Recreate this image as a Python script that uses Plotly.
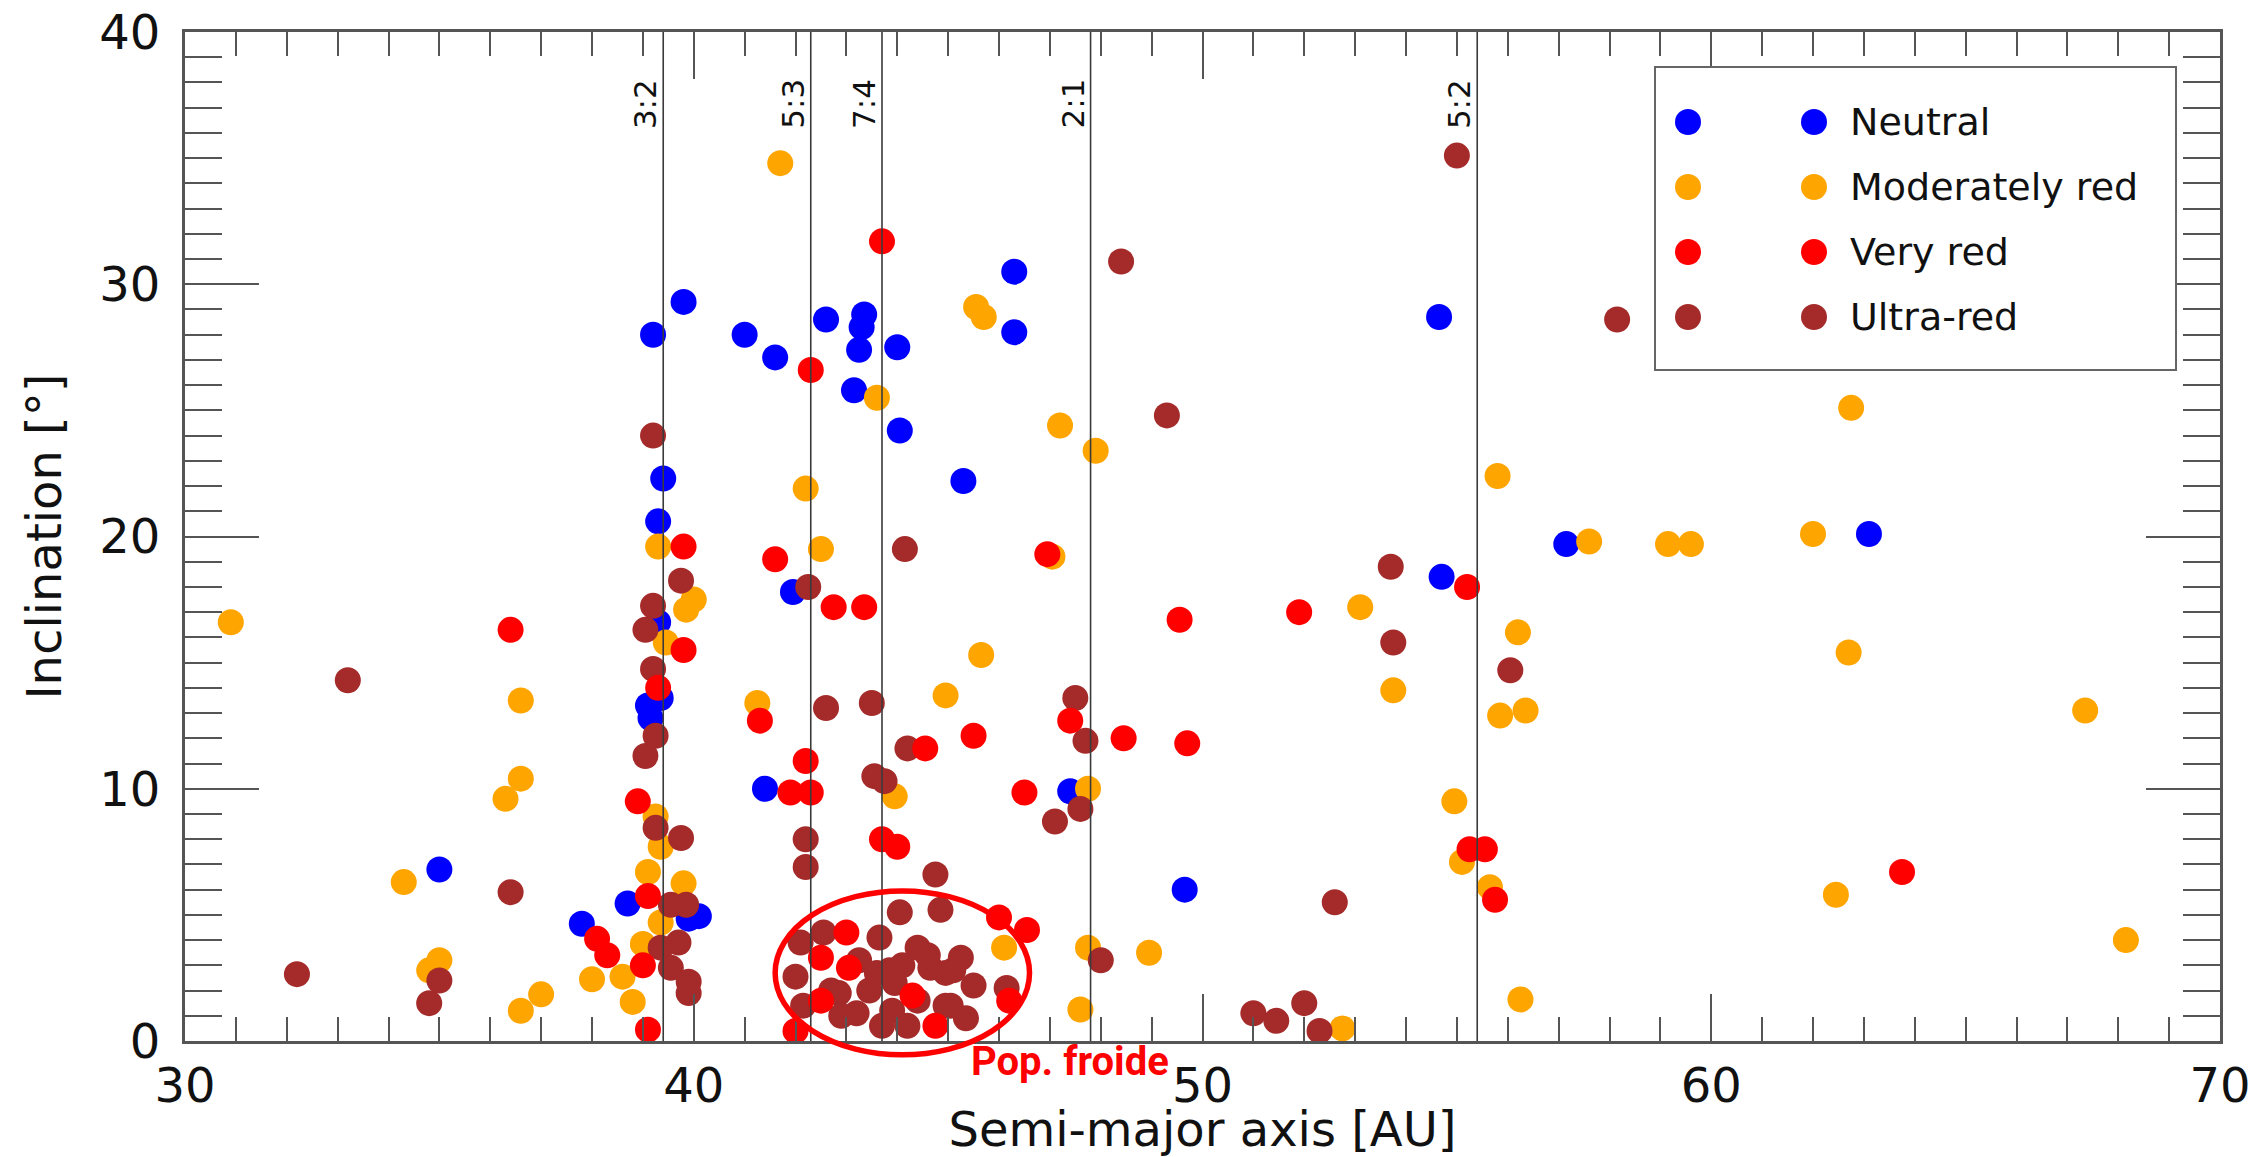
import plotly.graph_objects as go

# ---- Data: semi-major axis [AU] and inclination [deg] per colour class ----
neutral_a = [35.0, 37.8, 38.7, 39.9, 40.1, 39.3, 39.35, 39.1, 39.15, 39.4, 39.3, 39.2,
             39.8, 41.0, 41.6, 41.4, 41.95, 42.6, 43.35, 43.3, 43.25, 44.0, 43.15, 44.05,
             45.3, 46.3, 46.3, 47.4, 49.65, 54.65, 54.7, 57.15, 63.1]
neutral_i = [6.8, 4.65, 5.45, 4.85, 4.95, 16.6, 13.6, 13.3, 12.8, 22.3, 20.6, 28.0,
             29.3, 28.0, 27.1, 10.0, 17.8, 28.6, 28.8, 28.3, 27.4, 27.5, 25.8, 24.2,
             22.2, 30.5, 28.1, 9.9, 6.0, 28.7, 18.4, 19.7, 20.1]

modred_a = [30.9, 34.3, 34.8, 35.0, 36.3, 36.6, 36.6, 36.6, 37.0, 38.0, 38.6, 38.8,
            39.0, 39.1, 39.35, 39.35, 39.25, 39.8, 39.3, 39.45, 39.85, 40.0, 41.25, 41.7,
            42.2, 42.5, 43.6, 43.95, 44.95, 45.55, 45.7, 45.65, 46.1, 47.05, 47.2, 47.9,
            47.75, 47.75, 47.6, 48.95, 52.75, 53.1, 53.75, 54.95, 55.1, 55.65, 55.8, 55.85,
            56.2, 56.35, 56.25, 57.6, 59.15, 59.6, 62.0, 62.45, 62.7, 62.75, 67.35, 68.15]
modred_i = [16.6, 6.3, 2.8, 3.2, 9.6, 10.4, 13.5, 1.2, 1.85, 2.45, 2.55, 1.55,
            3.85, 6.7, 4.7, 7.7, 8.9, 6.25, 19.6, 15.8, 17.1, 17.5, 13.4, 34.8,
            21.9, 19.5, 25.5, 9.7, 13.7, 29.1, 28.7, 15.3, 3.7, 19.2, 24.4, 23.4,
            10.0, 3.7, 1.25, 3.5, 0.5, 17.2, 13.9, 9.5, 7.1, 6.1, 22.4, 12.9,
            16.2, 13.1, 1.65, 19.8, 19.7, 19.7, 20.1, 5.8, 15.4, 25.1, 13.1, 4.0]

veryred_a = [36.4, 38.1, 38.3, 38.9, 39.0, 39.1, 39.1, 39.3, 39.8, 39.8, 41.3, 41.6,
             41.9, 42.3, 42.2, 42.3, 42.75, 43.35, 43.7, 43.7, 44.0, 44.55, 45.5, 46.5,
             46.95, 46.0, 46.55, 46.2, 47.4, 48.45, 49.55, 49.7, 51.9, 55.2, 55.25, 55.55,
             55.75, 63.75, 43.0, 42.5, 43.05, 42.5, 44.3, 42.0, 44.75]
veryred_i = [16.3, 4.05, 3.4, 9.5, 3.0, 5.75, 0.45, 14.0, 15.5, 19.6, 12.7, 19.1,
             9.85, 9.85, 11.1, 26.6, 17.2, 17.2, 31.7, 8.0, 7.7, 11.6, 12.1, 9.85,
             19.3, 4.9, 4.4, 1.6, 12.7, 12.0, 16.7, 11.8, 17.0, 18.0, 7.6, 7.6,
             5.6, 6.7, 4.3, 3.3, 2.9, 1.6, 1.8, 0.4, 0.6]

ultrared_a = [32.2, 33.2, 34.8, 35.0, 36.4, 39.05, 39.25, 39.2, 39.05, 39.2, 39.75, 39.2,
              39.25, 39.75, 39.55, 39.85, 39.7, 39.35, 39.55, 39.9, 39.9, 42.25, 42.2, 42.2,
              42.6, 43.5, 43.55, 43.75, 44.15, 44.2, 44.75, 44.05, 44.85, 46.15, 47.5, 47.7,
              47.6, 47.1, 48.0, 48.4, 49.3, 51.0, 51.45, 52.0, 52.3, 52.6, 53.7, 53.75,
              55.0, 56.05, 58.15,
              42.55, 42.1, 43.65, 44.4, 43.25, 42.0, 44.65, 43.85, 42.85, 43.45, 42.15, 43.2,
              43.9, 44.4, 43.7, 42.9, 44.2, 44.95, 44.95, 44.6, 45.25, 45.1, 45.5, 45.05,
              45.35, 44.1, 43.95, 43.6, 42.7]
ultrared_i = [2.65, 14.3, 1.5, 2.4, 5.9, 11.3, 12.1, 14.75, 16.3, 17.25, 18.25, 24.0,
              8.45, 8.05, 5.4, 5.4, 3.9, 3.7, 2.9, 2.35, 1.9, 18.0, 8.0, 6.9,
              13.2, 13.4, 10.5, 10.3, 19.5, 11.6, 6.6, 5.1, 5.2, 2.1, 13.6, 11.9,
              9.2, 8.7, 3.2, 30.9, 24.8, 1.1, 0.8, 1.5, 0.4, 5.5, 18.8, 15.8,
              35.1, 14.7, 28.6,
              4.3, 3.9, 4.1, 3.7, 3.2, 2.55, 2.9, 2.8, 1.9, 2.0, 1.4, 1.1,
              1.2, 1.6, 0.6, 1.0, 0.6, 1.4, 2.7, 3.4, 3.3, 2.8, 2.2, 1.4,
              0.9, 3.0, 2.3, 2.7, 2.0]

# Mean-motion resonances with Neptune
resonance_names = ["3:2", "5:3", "7:4", "2:1", "5:2"]
resonance_a = [39.4, 42.3, 43.7, 47.8, 55.4]

class_names = ["Neutral", "Moderately red", "Very red", "Ultra-red"]
class_colors = ["#0000FF", "#FFA500", "#FF0000", "#A52A2A"]

X_RANGE = [30, 70]
Y_RANGE = [0, 40]
W, H = 2253, 1157
M_L, M_R, M_T, M_B = 185, 33, 32, 116
FONT = "DejaVu Sans"
AXIS_GREY = "#555555"
MARKER_SIZE = 26


def px_x(px):
    """Figure pixel column -> paper x."""
    return (px - M_L) / (W - M_L - M_R)


def px_y(py):
    """Figure pixel row -> paper y."""
    return (H - M_B - py) / (H - M_T - M_B)


def data_x(a):
    return (a - X_RANGE[0]) / (X_RANGE[1] - X_RANGE[0])


def data_y(i):
    return (i - Y_RANGE[0]) / (Y_RANGE[1] - Y_RANGE[0])


fig = go.Figure()

series = [
    (neutral_a, neutral_i, 0),
    (modred_a, modred_i, 1),
    (ultrared_a, ultrared_i, 3),
    (veryred_a, veryred_i, 2),
]
for xs, ys, k in series:
    fig.add_trace(go.Scatter(
        x=xs, y=ys, mode="markers", name=class_names[k], showlegend=False,
        marker=dict(size=MARKER_SIZE, color=class_colors[k], line=dict(width=0)),
    ))

shapes = []
annotations = []

# Resonance lines and their rotated labels
for name, a in zip(resonance_names, resonance_a):
    shapes.append(dict(type="line", xref="x", yref="y", x0=a, x1=a,
                       y0=Y_RANGE[0], y1=Y_RANGE[1], layer="above",
                       line=dict(color="#3a3a3a", width=1.6)))
    annotations.append(dict(text=name, xref="x", yref="y", x=a, y=37.15,
                            xshift=-18, textangle=-90, showarrow=False,
                            xanchor="center", yanchor="middle",
                            font=dict(family=FONT, size=31, color="#111111")))

# Cold classical population outline
cold_a = [41.6, 46.6]
cold_i = [-0.55, 5.95]
shapes.append(dict(type="circle", xref="paper", yref="paper",
                   x0=data_x(cold_a[0]), x1=data_x(cold_a[1]),
                   y0=data_y(cold_i[0]), y1=data_y(cold_i[1]),
                   layer="above", line=dict(color="#FF0000", width=5.5)))
annotations.append(dict(text="Pop. froide", xref="x", yref="paper", x=47.4,
                        y=px_y(1061), showarrow=False, xanchor="center",
                        yanchor="middle",
                        font=dict(family="Roboto", size=40, color="#FF0000",
                                  weight="bold")))

# Legend box drawn by hand: two marker columns, then the label
shapes.append(dict(type="rect", xref="paper", yref="paper",
                   x0=px_x(1655), x1=px_x(2176), y0=px_y(370), y1=px_y(67),
                   layer="above", fillcolor="white",
                   line=dict(color="#666666", width=2)))
row_px = [122, 187, 252, 317]
for k, py in enumerate(row_px):
    for cx in (1688, 1814):
        shapes.append(dict(type="circle", xref="paper", yref="paper",
                           xsizemode="pixel", ysizemode="pixel",
                           xanchor=px_x(cx), yanchor=px_y(py),
                           x0=-MARKER_SIZE / 2, x1=MARKER_SIZE / 2,
                           y0=-MARKER_SIZE / 2, y1=MARKER_SIZE / 2,
                           layer="above", fillcolor=class_colors[k],
                           line=dict(width=0)))
    annotations.append(dict(text=class_names[k], xref="paper", yref="paper",
                            x=px_x(1848), y=px_y(py), showarrow=False,
                            xanchor="left", yanchor="middle",
                            font=dict(family=FONT, size=38, color="#111111")))

axis_common = dict(
    showgrid=False, zeroline=False, showline=True, linecolor=AXIS_GREY,
    linewidth=3, mirror="ticks", ticks="inside", tickcolor=AXIS_GREY,
    tickwidth=2, tickfont=dict(family=FONT, size=48, color="#111111"),
)

fig.update_layout(
    width=W, height=H,
    margin=dict(l=M_L, r=M_R, t=M_T, b=M_B, autoexpand=False),
    paper_bgcolor="white", plot_bgcolor="white",
    font=dict(family=FONT, color="#111111"),
    xaxis=dict(range=X_RANGE, tick0=30, dtick=10, ticklen=47,
               minor=dict(dtick=1, ticks="inside", ticklen=24,
                          tickcolor=AXIS_GREY, tickwidth=2),
               title=dict(text="Semi-major axis [AU]", standoff=6,
                          font=dict(family=FONT, size=48, color="#111111")),
               **axis_common),
    yaxis=dict(range=Y_RANGE, tick0=0, dtick=10, ticklen=74,
               ticklabelstandoff=12,
               minor=dict(dtick=1, ticks="inside", ticklen=37,
                          tickcolor=AXIS_GREY, tickwidth=2),
               title=dict(text="Inclination [°]", standoff=23,
                          font=dict(family=FONT, size=48, color="#111111")),
               **axis_common),
    shapes=shapes,
    annotations=annotations,
    showlegend=False,
)

fig.write_html("out.html")
